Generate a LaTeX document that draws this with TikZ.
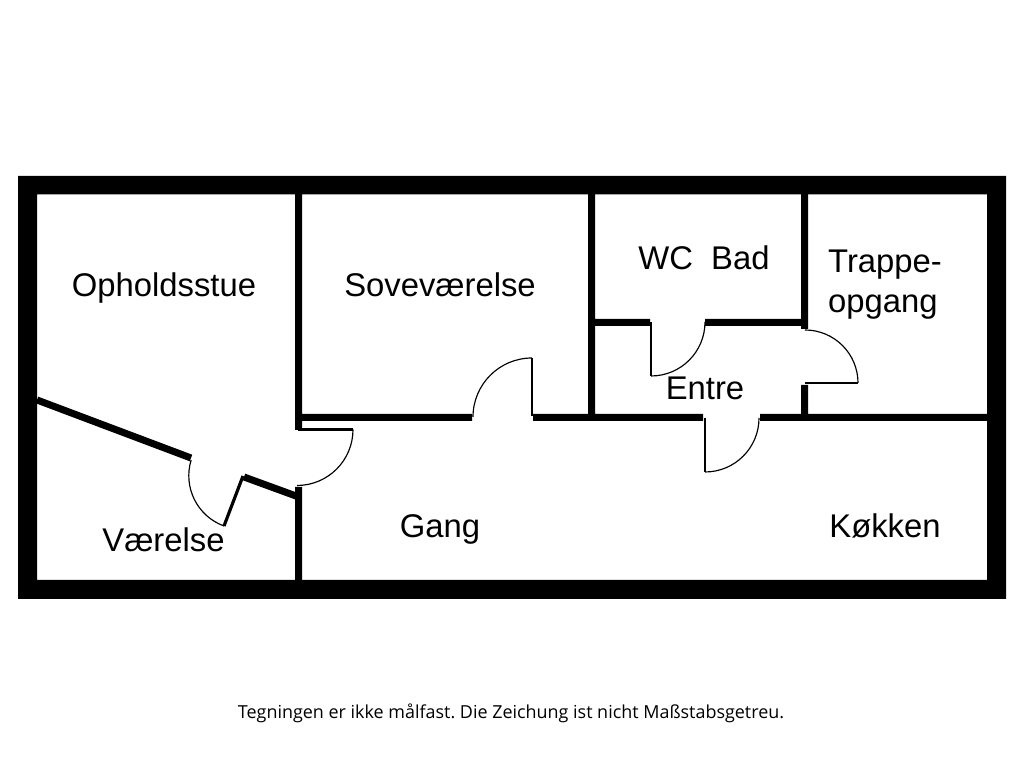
\documentclass[tikz,border=0pt]{standalone}
\usepackage{fontspec}
\setmainfont{Liberation Sans}
\newfontfamily\notefont{Open Sans}
\begin{document}
\begin{tikzpicture}[
x=0.01cm,y=-0.01cm,
wall/.style={fill=black},
slant/.style={draw=black,line width=2pt},
leaf/.style={draw=black,line width=0.6pt},
swing/.style={draw=black,line width=0.33pt},
room/.style={anchor=base,inner sep=0pt,font=\fontsize{9.33}{11}\selectfont},
]
\useasboundingbox (0,0) rectangle (1024,768);
\path[fill=white] (0,0) rectangle (1024,768);
% outer walls
\path[wall,even odd rule]
    (18,176) rectangle (1006,599)
    (37,194.5) rectangle (987,580);
% inner walls
\path[wall]
    (295,194) rectangle (302,430)
    (295,487) rectangle (302,580)
    (588,194) rectangle (595,421)
    (801,194) rectangle (808,329)
    (801,385) rectangle (808,421)
    (302,414) rectangle (472,421)
    (533,414) rectangle (703,421)
    (760,414) rectangle (987,421)
    (595,319) rectangle (650,326)
    (705,319) rectangle (801,326);
\path[slant]
    (37,400) -- (191,458)
    (244,477) -- (296,496);
% doors
\path[leaf]
    (532,416) -- (532,358)
    (651,322) -- (651,376)
    (805,383) -- (858,383)
    (705,418) -- (705,472)
    (298,429.5) -- (353,429.5);
\path[leaf,line width=0.9pt]
    (243,476) -- (224,526);
\path[swing]
    (532,358) arc[start angle=-90,end angle=-180,radius=59]
    (651,376) arc[start angle=90,end angle=0,radius=54]
    (858,383) arc[start angle=0,end angle=-90,radius=53]
    (705,472) arc[start angle=90,end angle=0,radius=54]
    (353,429.5) arc[start angle=0,end angle=90,radius=56]
    (224,526) arc[start angle=110,end angle=197,radius=53.5];
% rooms
\node[room] (ophold) at (164,297) {Opholdsstue};
\node[room] (sove) at (440,297) {Soveværelse};
\node[room] (wcbad) at (704,270) {WC\ \ Bad};
\node[room,anchor=base west] (trappe) at (827.5,273) {Trappe-};
\node[room,anchor=base west] (opgang) at (827.5,313) {opgang};
\node[room] (entre) at (705,400) {Entre};
\node[room] (vaerelse) at (163.5,551.5) {Værelse};
\node[room] (gang) at (440,538) {Gang};
\node[room] (koekken) at (885,538) {Køkken};
\node[anchor=base,font=\notefont\fontsize{5.1}{6}\selectfont] (note) at (511,718.5)
    {\frenchspacing Tegningen er ikke målfast. Die Zeichung ist nicht Maßstabsgetreu.};
\end{tikzpicture}
\end{document}
